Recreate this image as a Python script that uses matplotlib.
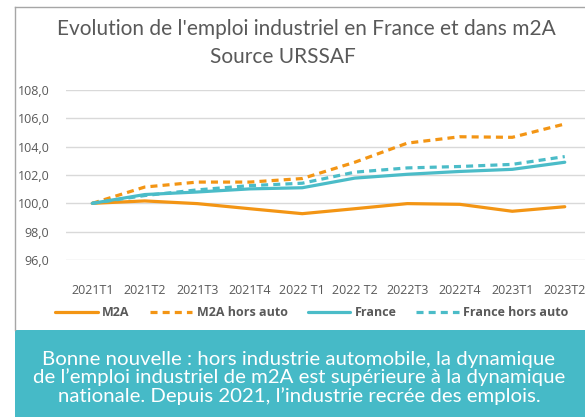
import matplotlib.pyplot as plt
from matplotlib.patches import Rectangle
from matplotlib.lines import Line2D

# Data
trimestres = ["2021T1", "2021T2", "2021T3", "2021T4", "2022 T1",
              "2022 T2", "2022T3", "2022T4", "2023T1", "2023T2"]
m2a = [100.0, 100.17, 99.98, 99.62, 99.27, 99.62, 99.98, 99.93, 99.44, 99.76]
m2a_hors_auto = [100.0, 101.15, 101.5, 101.5, 101.75, 102.9, 104.25, 104.7, 104.66, 105.6]
france = [100.0, 100.62, 100.8, 101.02, 101.1, 101.78, 102.05, 102.25, 102.4, 102.9]
france_hors_auto = [100.0, 100.55, 100.95, 101.25, 101.42, 102.2, 102.5, 102.6, 102.75, 103.3]
y_ticks = [96, 98, 100, 102, 104, 106, 108]

ORANGE = "#F39514"
TEAL = "#4BBCC8"
GRAY = "#595959"

plt.rcParams["font.family"] = ["Open Sans", "DejaVu Sans"]

W, H = 585, 417
fig = plt.figure(figsize=(W / 100, H / 100), dpi=100)

# chart frame
fig.add_artist(Line2D([15 / W, 15 / W], [1 - 330 / H, 1 - 7 / H], color="#A6A6A6", lw=1))
fig.add_artist(Line2D([15 / W, 1], [1 - 7 / H, 1 - 7 / H], color="#A6A6A6", lw=1))

# title
fig.text(306 / W, 1 - 29 / H, "Evolution de l'emploi industriel en France et dans m2A",
         ha="center", va="center", fontsize=15, color=GRAY, family=["Lato", "DejaVu Sans"])
fig.text(283 / W, 1 - 57 / H, "Source URSSAF",
         ha="center", va="center", fontsize=15, color=GRAY, family=["Lato", "DejaVu Sans"])

# axes: category spacing 52.5 px, first point at x=92.5
left = 66 / W
width = 525 / W
bottom = 1 - 260 / H
height = 170 / H
ax = fig.add_axes([left, bottom, width, height])

x = range(len(trimestres))
ax.plot(x, m2a, color=ORANGE, lw=2.3, solid_capstyle="round", label="M2A")
ax.plot(x, m2a_hors_auto, color=ORANGE, lw=2.3, ls=(0, (2.2, 1.6)), label="M2A hors auto")
ax.plot(x, france, color=TEAL, lw=2.3, solid_capstyle="round", label="France")
ax.plot(x, france_hors_auto, color=TEAL, lw=2.3, ls=(0, (2.2, 1.6)), label="France hors auto")

ax.set_xlim(-0.5, len(trimestres) - 0.5)
ax.set_ylim(96, 108)
ax.set_yticks(y_ticks)
ax.set_yticklabels([f"{v:.1f}".replace(".", ",") for v in y_ticks])
ax.set_xticks(list(x))
ax.set_xticklabels(trimestres)
ax.grid(axis="y", color="#D9D9D9", lw=1)
ax.set_axisbelow(True)
for s in ax.spines.values():
    s.set_visible(False)
ax.tick_params(length=0, labelsize=9, colors=GRAY)
ax.tick_params(axis="x", pad=17)
ax.tick_params(axis="y", pad=12)

# legend
leg = fig.legend(loc="center", bbox_to_anchor=(312 / W, 1 - 313 / H), ncol=4,
                 frameon=False, handlelength=3.4, columnspacing=1.6, handletextpad=0.35,
                 prop={"weight": "bold", "size": 9})
for t in leg.get_texts():
    t.set_color(GRAY)

# bottom message box
fig.add_artist(Rectangle((15 / W, 0), 1 - 15 / W, 87 / H, transform=fig.transFigure,
                         facecolor="#46BAC7", edgecolor="none"))
message = ("Bonne nouvelle : hors industrie automobile, la dynamique\n"
           "de l\u2019emploi industriel de m2A est sup\u00e9rieure \u00e0 la dynamique\n"
           "nationale. Depuis 2021, l\u2019industrie recr\u00e9e des emplois.")
fig.text(299 / W, 1 - 378 / H, message, ha="center", va="center", color="white",
         fontsize=14.7, linespacing=1.02, family=["Lato", "DejaVu Sans"])

fig.savefig("out.png", dpi=100)
